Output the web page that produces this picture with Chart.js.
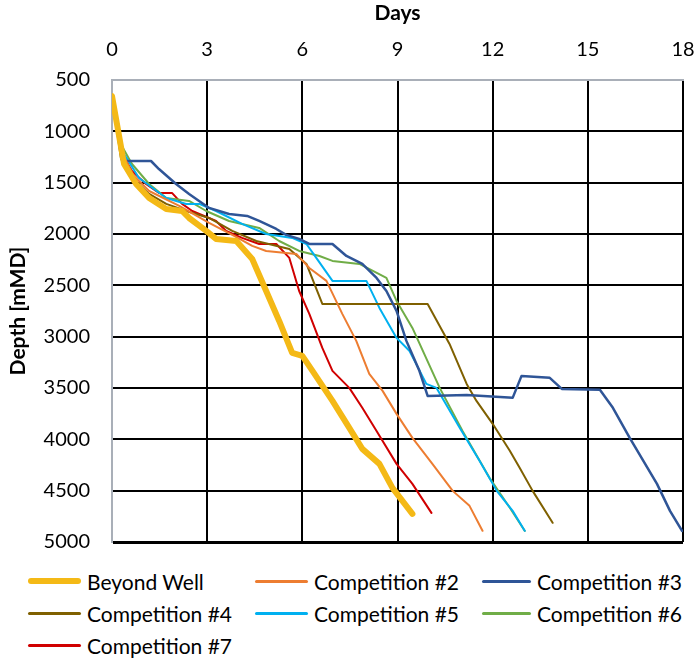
<!DOCTYPE html>
<html>
<head>
<meta charset="utf-8">
<script src="https://cdn.jsdelivr.net/npm/chart.js@4.4.1/dist/chart.umd.min.js"></script>
<style>
  body { margin: 0; background: #fff; font-family: Lato, "Open Sans", sans-serif; overflow: hidden; }
  #wrap { position: relative; width: 695px; height: 560px; }
  #legend { position: absolute; top: 565px; left: 28px; display: grid;
    grid-template-columns: 227px 227px 200px; }
  .item { display: flex; align-items: center; height: 32px; font-size: 21px; color: #000; white-space: nowrap; }
  .swatch { width: 53px; margin-right: 6px; border-radius: 3px; }
</style>
</head>
<body>
<div id="wrap"><canvas id="chart" width="695" height="560"></canvas></div>
<div id="legend"></div>
<script>
// days, depth [mMD]
const beyondDays  = [0, 0.38, 0.76, 1.17, 1.71, 2.21, 2.43, 2.97, 3.28, 3.92, 4.42, 4.86, 5.27, 5.68, 6.0, 6.32, 6.95, 7.48, 7.89, 8.43, 8.84, 9.47];
const beyondDepth = [656, 1318, 1513, 1649, 1756, 1776, 1844, 1970, 2048, 2068, 2243, 2555, 2847, 3158, 3187, 3333, 3626, 3889, 4093, 4239, 4473, 4726];

const comp2Days  = [0, 0.28, 0.69, 1.17, 2.12, 3.06, 3.85, 4.42, 4.86, 5.81, 6.22, 6.76, 7.26, 7.70, 8.11, 8.53, 8.97, 9.47, 10.1, 10.74, 11.27, 11.68];
const comp2Depth = [675, 1191, 1435, 1581, 1727, 1892, 2019, 2116, 2165, 2194, 2331, 2457, 2778, 3041, 3363, 3528, 3752, 3986, 4239, 4502, 4648, 4891];

const comp3Days  = [0, 0.32, 1.23, 1.48, 2.02, 2.43, 3.06, 3.69, 4.26, 4.64, 5.18, 5.49, 5.90, 6.22, 6.95, 7.39, 7.89, 8.34, 8.65, 8.97, 9.28, 9.69, 9.95, 11.18, 12.63, 12.91, 13.80, 14.18, 15.38, 15.79, 16.32, 17.18, 17.59, 17.97];
const comp3Depth = [656, 1289, 1289, 1367, 1513, 1610, 1746, 1805, 1824, 1873, 1951, 2009, 2048, 2097, 2097, 2214, 2292, 2428, 2555, 2749, 3041, 3333, 3577, 3567, 3596, 3382, 3401, 3509, 3518, 3693, 3986, 4434, 4697, 4892];

const comp4Days  = [0, 0.28, 0.63, 1.17, 1.71, 2.34, 3.06, 3.79, 4.55, 5.59, 6.13, 6.63, 9.95, 10.64, 11.18, 11.49, 12.0, 12.54, 12.85, 13.26, 13.89];
const comp4Depth = [656, 1260, 1454, 1610, 1707, 1776, 1844, 1970, 2068, 2146, 2292, 2681, 2681, 3071, 3460, 3626, 3849, 4112, 4278, 4502, 4813];

const comp5Days  = [0, 0.32, 0.85, 1.71, 2.34, 2.75, 3.28, 4.10, 4.86, 5.68, 6.13, 6.44, 6.95, 8.02, 8.43, 8.97, 9.38, 9.91, 10.23, 10.96, 11.59, 12.13, 12.63, 13.01];
const comp5Depth = [675, 1191, 1454, 1649, 1707, 1707, 1776, 1902, 2000, 2038, 2097, 2233, 2457, 2457, 2720, 3012, 3139, 3460, 3499, 3888, 4210, 4502, 4697, 4891];

const comp6Days  = [0, 0.22, 0.63, 1.17, 1.71, 2.43, 2.97, 3.69, 4.64, 5.27, 5.90, 6.54, 6.95, 7.80, 8.65, 8.97, 9.47, 10.33, 11.05, 11.90, 12.54, 13.01];
const comp6Depth = [675, 1094, 1318, 1513, 1649, 1678, 1776, 1873, 1941, 2068, 2165, 2214, 2262, 2292, 2428, 2652, 2915, 3499, 3918, 4375, 4667, 4891];

const comp7Days  = [0, 0.32, 0.63, 1.07, 1.48, 1.89, 2.21, 2.53, 3.28, 3.60, 4.10, 4.64, 5.18, 5.59, 5.90, 6.22, 6.63, 6.95, 7.48, 7.89, 8.34, 8.97, 9.47, 10.07];
const comp7Depth = [675, 1220, 1386, 1513, 1600, 1600, 1707, 1776, 1873, 1970, 2038, 2097, 2097, 2233, 2555, 2778, 3110, 3333, 3499, 3693, 3918, 4239, 4434, 4716];

const dayTicks = [0, 3, 6, 9, 12, 15, 18];
const depthTicks = [500, 1000, 1500, 2000, 2500, 3000, 3500, 4000, 4500, 5000];

function pts(xs, ys) {
  return xs.map((x, i) => ({ x: x, y: ys[i] }));
}

const series = [
  { label: "Beyond Well", days: beyondDays, depth: beyondDepth, color: "#F4B916", width: 6 },
  { label: "Competition #2", days: comp2Days, depth: comp2Depth, color: "#ED7D31", width: 2 },
  { label: "Competition #3", days: comp3Days, depth: comp3Depth, color: "#2F5597", width: 2.5 },
  { label: "Competition #4", days: comp4Days, depth: comp4Depth, color: "#7F6000", width: 2 },
  { label: "Competition #5", days: comp5Days, depth: comp5Depth, color: "#00B0F0", width: 2 },
  { label: "Competition #6", days: comp6Days, depth: comp6Depth, color: "#70AD47", width: 2 },
  { label: "Competition #7", days: comp7Days, depth: comp7Depth, color: "#D00000", width: 2 },
];

const gray = "#A9AFB8";
const font = "Lato, 'Open Sans', sans-serif";

const chart = new Chart(document.getElementById("chart"), {
  type: "line",
  data: {
    datasets: series.map((s) => ({
      label: s.label,
      data: pts(s.days, s.depth),
      borderColor: s.color,
      backgroundColor: s.color,
      borderWidth: s.width,
      pointRadius: 0,
      tension: 0,
      borderCapStyle: "round",
      borderJoinStyle: "round",
    })),
  },
  options: {
    responsive: false,
    animation: false,
    layout: { padding: { left: 0, right: 12, top: 0, bottom: 18 } },
    plugins: { legend: { display: false }, tooltip: { enabled: false } },
    scales: {
      x: {
        type: "linear",
        position: "top",
        min: 0,
        max: 18,
        afterBuildTicks: (s) => { s.ticks = dayTicks.map((v) => ({ value: v })); },
        afterFit: (s) => { s.height = 80; s.paddingLeft = 0; s.paddingRight = 0; },
        ticks: { color: "#000", font: { family: font, size: 20 }, padding: 18, callback: (v) => String(v) },
        grid: {
          color: (c) => (c.index === 0 ? gray : "#000"),
          lineWidth: 2,
          drawTicks: false,
        },
        border: { color: gray, width: 2 },
        title: { display: true, text: "Days", color: "#000", font: { family: font, size: 21, weight: "bold" }, padding: { top: 1, bottom: 0 } },
      },
      y: {
        type: "linear",
        reverse: true,
        min: 500,
        max: 5000,
        afterBuildTicks: (s) => { s.ticks = depthTicks.map((v) => ({ value: v })); },
        afterFit: (s) => { s.width = 112; s.paddingTop = 0; s.paddingBottom = 0; },
        ticks: { color: "#000", font: { family: font, size: 20 }, padding: 22, callback: (v) => String(v) },
        grid: {
          color: (c) => (c.index === 0 ? gray : "#000"),
          lineWidth: (c) => (c.index === depthTicks.length - 1 ? 3 : 2),
          drawTicks: false,
        },
        border: { color: gray, width: 2 },
        title: { display: true, text: "Depth [mMD]", color: "#000", font: { family: font, size: 21, weight: "bold" }, padding: { top: 6, bottom: 0 } },
      },
    },
  },
});

// legend in three aligned columns, built from the chart datasets
const legend = document.getElementById("legend");
chart.data.datasets.forEach((d) => {
  const item = document.createElement("div");
  item.className = "item";
  const sw = document.createElement("span");
  sw.className = "swatch";
  sw.style.height = (d.borderWidth > 3 ? 6 : 3) + "px";
  sw.style.background = d.borderColor;
  item.appendChild(sw);
  item.appendChild(document.createTextNode(d.label));
  legend.appendChild(item);
});
</script>
</body>
</html>
